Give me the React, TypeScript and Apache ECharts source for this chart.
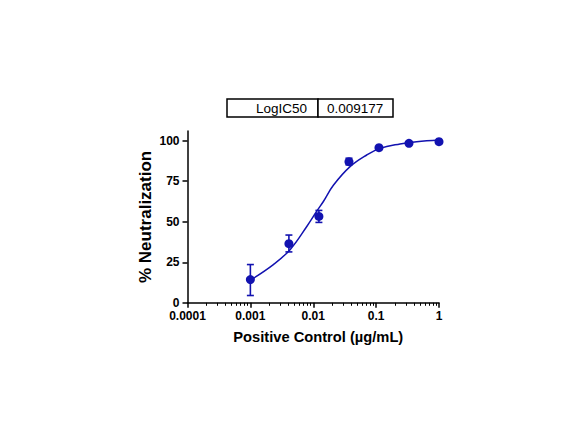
import React, { useRef, useEffect } from 'react';
import * as echarts from 'echarts';

// concentrations (µg/mL) and mean % neutralization with error bar ends
const concentrations = [0.001, 0.0041, 0.0123, 0.037, 0.111, 0.333, 1];
const neutralization = [14.3, 36.5, 53.3, 87.1, 95.7, 98.4, 99.4];
const errLow = [4.5, 31.4, 49.6, 85.1, 95.2, 98.0, 99.0];
const errHigh = [23.6, 41.8, 57.0, 89.2, 96.2, 98.8, 99.8];

// fitted curve
const fitX = [0.00103, 0.00232, 0.00428, 0.00789, 0.01137, 0.01449, 0.0209, 0.0385, 0.0709, 0.115, 0.24, 0.441, 1.0];
const fitY = [14.3, 23.6, 32.8, 47.1, 56.5, 62.5, 72.5, 84.0, 91.2, 95.3, 98.0, 99.4, 100.4];

const xTickLabels = ['0.0001', '0.001', '0.01', '0.1', '1'];
const yTicks = [0, 25, 50, 75, 100];

const tableLabel = 'LogIC50';
const tableValue = '0.009177';

const BLUE = '#1212b0';
const FONT = '"Liberation Sans", Arial, sans-serif';

const majorTicks = [-4, -3, -2, -1, 0];
const minorTicks: number[] = [];
for (let d = -4; d < 0; d++) {
    for (let k = 2; k <= 9; k++) minorTicks.push(d + Math.log10(k));
}

const App: React.FC = () => {
    const chartRef = useRef<HTMLDivElement>(null);

    useEffect(() => {
        if (!chartRef.current) return;
        const chart = echarts.init(chartRef.current, null, { renderer: 'svg' });

        const points = concentrations.map((c, i) => [Math.log10(c), neutralization[i]]);
        const bars = concentrations.map((c, i) => [Math.log10(c), errLow[i], errHigh[i]]);
        const curve = fitX.map((x, i) => [Math.log10(x), fitY[i]]);

        chart.setOption({
            animation: false,
            backgroundColor: '#fff',
            grid: { left: 187.5, right: 143, top: 131, bottom: 134.2 },
            graphic: [
                {
                    type: 'rect',
                    shape: { x: 227, y: 99, width: 91, height: 18 },
                    style: { fill: '#fff', stroke: '#000', lineWidth: 1.5 }
                },
                {
                    type: 'rect',
                    shape: { x: 318, y: 99, width: 75, height: 18 },
                    style: { fill: '#fff', stroke: '#000', lineWidth: 1.5 }
                },
                {
                    type: 'text',
                    x: 307,
                    y: 108,
                    style: {
                        text: tableLabel, fill: '#000', font: `13.5px ${FONT}`,
                        textAlign: 'right', textVerticalAlign: 'middle'
                    }
                },
                {
                    type: 'text',
                    x: 327,
                    y: 108,
                    style: {
                        text: tableValue, fill: '#000', font: `13.5px ${FONT}`,
                        textAlign: 'left', textVerticalAlign: 'middle'
                    }
                }
            ],
            xAxis: [
                {
                    type: 'value',
                    min: -4,
                    max: 0,
                    position: 'bottom',
                    axisLine: { onZero: false, lineStyle: { color: '#000', width: 1.5 } },
                    axisTick: { customValues: majorTicks, length: 5, lineStyle: { color: '#000', width: 1.5 } },
                    axisLabel: {
                        customValues: majorTicks,
                        formatter: (v: number) => xTickLabels[Math.round(v) + 4],
                        margin: 7,
                        color: '#000',
                        fontFamily: FONT,
                        fontWeight: 'bold',
                        fontSize: 12,
                        lineHeight: 12
                    },
                    splitLine: { show: false },
                    name: 'Positive Control (\u00b5g/mL)',
                    nameLocation: 'middle',
                    nameGap: 27,
                    nameTextStyle: {
                        color: '#000', fontFamily: FONT, fontWeight: 'bold', fontSize: 14.7,
                        padding: [0, 0, 0, 10]
                    }
                },
                {
                    type: 'value',
                    min: -4,
                    max: 0,
                    position: 'bottom',
                    axisLine: { show: false, onZero: false },
                    axisTick: { customValues: minorTicks, length: 3, lineStyle: { color: '#000', width: 1 } },
                    axisLabel: { show: false },
                    splitLine: { show: false }
                }
            ],
            yAxis: {
                type: 'value',
                min: 0,
                max: 106,
                axisLine: { show: true, onZero: false, lineStyle: { color: '#000', width: 1.5 } },
                axisTick: { show: true, customValues: yTicks, length: 5, lineStyle: { color: '#000', width: 1.5 } },
                axisLabel: {
                    customValues: yTicks,
                    margin: 8,
                    color: '#000',
                    fontFamily: FONT,
                    fontWeight: 'bold',
                    fontSize: 12,
                    lineHeight: 10
                },
                splitLine: { show: false },
                name: '% Neutralization',
                nameLocation: 'middle',
                nameGap: 34,
                nameTextStyle: { color: '#000', fontFamily: FONT, fontWeight: 'bold', fontSize: 17 }
            },
            series: [
                {
                    type: 'line',
                    data: curve,
                    smooth: 0.4,
                    showSymbol: false,
                    lineStyle: { color: BLUE, width: 1.5 },
                    z: 2
                },
                {
                    type: 'custom',
                    data: bars,
                    encode: { x: 0, y: [1, 2] },
                    z: 3,
                    renderItem: (params: any, api: any) => {
                        const x = api.value(0);
                        const lo = api.coord([x, api.value(1)]);
                        const hi = api.coord([x, api.value(2)]);
                        const hw = 3.5;
                        const style = { stroke: BLUE, lineWidth: 1.6 };
                        return {
                            type: 'group',
                            children: [
                                { type: 'line', shape: { x1: lo[0], y1: lo[1], x2: hi[0], y2: hi[1] }, style },
                                { type: 'line', shape: { x1: lo[0] - hw, y1: lo[1], x2: lo[0] + hw, y2: lo[1] }, style },
                                { type: 'line', shape: { x1: hi[0] - hw, y1: hi[1], x2: hi[0] + hw, y2: hi[1] }, style }
                            ]
                        };
                    }
                },
                {
                    type: 'scatter',
                    data: points,
                    symbol: 'circle',
                    symbolSize: 9,
                    itemStyle: { color: BLUE, opacity: 1 },
                    z: 4
                }
            ]
        });

        return () => {
            chart.dispose();
        };
    }, []);

    return (
        <div style={{ position: 'fixed', left: 0, top: 0, width: '582px', height: '437px', background: '#fff' }}>
            <div ref={chartRef} style={{ width: '582px', height: '437px' }} />
        </div>
    );
};

export default App;
